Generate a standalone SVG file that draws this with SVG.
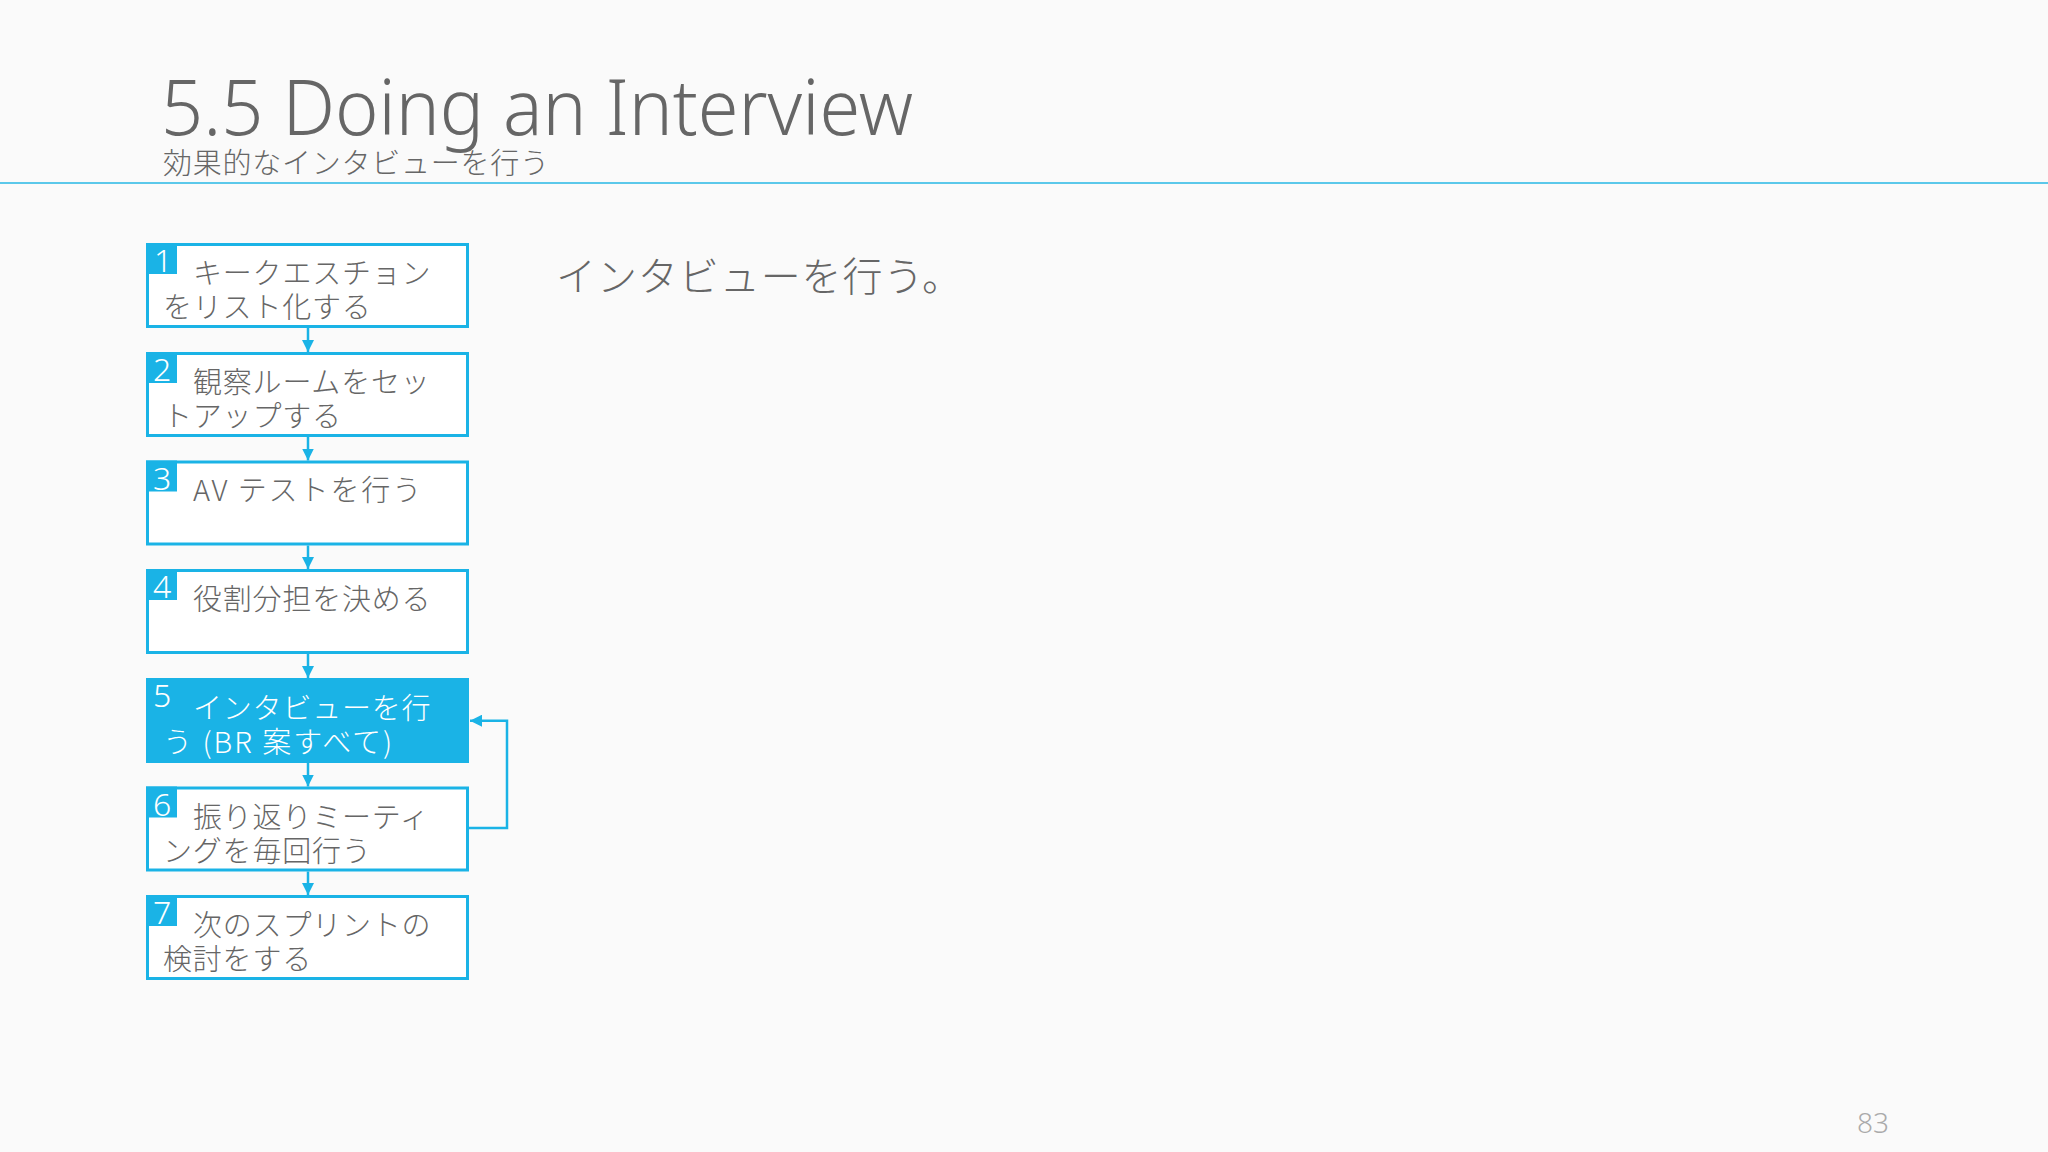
<svg xmlns="http://www.w3.org/2000/svg" width="2048" height="1152" viewBox="0 0 2048 1152">
<defs>
<style>
.jp{font-family:"Noto Sans CJK JP","Noto Sans",sans-serif;font-weight:300;fill:#666666}
.box{fill:#ffffff;stroke:#1ab3e6;stroke-width:3}
.boxa{fill:#1ab3e6;stroke:#1ab3e6;stroke-width:3}
.badge{fill:#1ab3e6}
.num{font-family:"Noto Sans","Liberation Sans",sans-serif;font-weight:300;font-size:32px;fill:#ffffff}
.bt{font-size:29px;letter-spacing:0.8px}
.wt{fill:#ffffff}
.con{fill:none;stroke:#1ab3e6;stroke-width:2.5}
</style>
<marker id="ah" viewBox="0 0 12 12" refX="12" refY="6" markerWidth="12" markerHeight="12" markerUnits="userSpaceOnUse" orient="auto">
<path d="M0,0 L12,6 L0,12 z" fill="#1ab3e6"/>
</marker>
</defs>
<rect x="0" y="0" width="2048" height="1152" fill="#fafafa"/>
<g id="header">
<text x="161" y="135" font-family="Noto Sans,Liberation Sans,sans-serif" font-weight="300" font-size="78" fill="#666666" textLength="752" lengthAdjust="spacingAndGlyphs">5.5 Doing an Interview</text>
<text class="jp" x="163" y="174" font-size="29" textLength="386" lengthAdjust="spacing">効果的なインタビューを行う</text>
<line x1="0" y1="183" x2="2048" y2="183" stroke="#5bc8ea" stroke-width="2"/>
</g>
<g id="connectors">
<line class="con" x1="308" y1="328" x2="308" y2="352" marker-end="url(#ah)"/>
<line class="con" x1="308" y1="437" x2="308" y2="460.5" marker-end="url(#ah)"/>
<line class="con" x1="308" y1="545.5" x2="308" y2="569" marker-end="url(#ah)"/>
<line class="con" x1="308" y1="654" x2="308" y2="678" marker-end="url(#ah)"/>
<line class="con" x1="308" y1="763" x2="308" y2="786.5" marker-end="url(#ah)"/>
<line class="con" x1="308" y1="871.5" x2="308" y2="895" marker-end="url(#ah)"/>
<polyline class="con" points="469,828 507,828 507,720.7 470,720.7" marker-end="url(#ah)"/>
</g>
<g id="step1">
<rect class="box" x="147.5" y="244.5" width="320" height="82"/>
<rect class="badge" x="146" y="243" width="31" height="31"/>
<text class="num" x="154" y="272">1</text>
<text class="jp bt" x="193" y="284">キークエスチョン</text>
<text class="jp bt" x="163" y="318">をリスト化する</text>
</g>
<g id="step2">
<rect class="box" x="147.5" y="353.5" width="320" height="82"/>
<rect class="badge" x="146" y="352" width="31" height="31"/>
<text class="num" x="153" y="381">2</text>
<text class="jp bt" x="193" y="393">観察ルームをセッ</text>
<text class="jp bt" x="163" y="427">トアップする</text>
</g>
<g id="step3">
<rect class="box" x="147.5" y="462" width="320" height="82"/>
<rect class="badge" x="146" y="460.5" width="31" height="31"/>
<text class="num" x="153" y="489.5">3</text>
<text class="jp bt" x="193" y="501" textLength="229" lengthAdjust="spacing">AV テストを行う</text>
</g>
<g id="step4">
<rect class="box" x="147.5" y="570.5" width="320" height="82"/>
<rect class="badge" x="146" y="569" width="31" height="31"/>
<text class="num" x="153" y="598">4</text>
<text class="jp bt" x="193" y="610">役割分担を決める</text>
</g>
<g id="step5">
<rect class="boxa" x="147.5" y="679.5" width="320" height="82"/>
<text class="num" x="153" y="707">5</text>
<text class="jp bt wt" x="193" y="719">インタビューを行</text>
<text class="jp bt wt" x="163" y="753" textLength="230" lengthAdjust="spacing">う (BR 案すべて)</text>
</g>
<g id="step6">
<rect class="box" x="147.5" y="788" width="320" height="82"/>
<rect class="badge" x="146" y="786.5" width="31" height="31"/>
<text class="num" x="153" y="815.5">6</text>
<text class="jp bt" x="193" y="827.5">振り返りミーティ</text>
<text class="jp bt" x="163" y="861.5">ングを毎回行う</text>
</g>
<g id="step7">
<rect class="box" x="147.5" y="896.5" width="320" height="82"/>
<rect class="badge" x="146" y="895" width="31" height="31"/>
<text class="num" x="153" y="924">7</text>
<text class="jp bt" x="193" y="936">次のスプリントの</text>
<text class="jp bt" x="163" y="970">検討をする</text>
</g>
<g id="content">
<text class="jp" x="556" y="291" font-size="40" textLength="406" lengthAdjust="spacing">インタビューを行う。</text>
<text x="1857" y="1133" font-family="Noto Sans,Liberation Sans,sans-serif" font-weight="300" font-size="28" fill="#aaaaaa">83</text>
</g>
</svg>
